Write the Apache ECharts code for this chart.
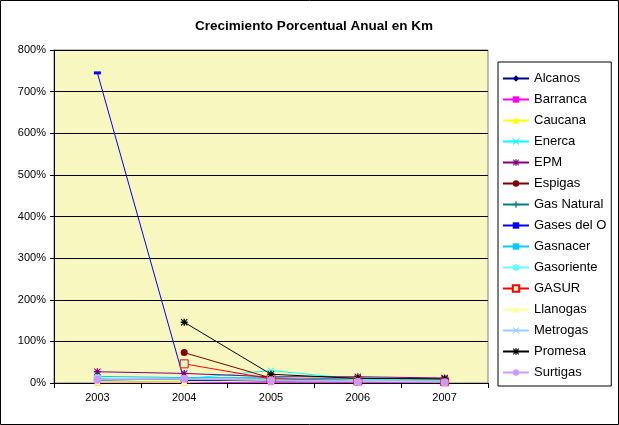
<!DOCTYPE html>
<html>
<head>
<meta charset="utf-8">
<script src="https://cdn.jsdelivr.net/npm/echarts@6/dist/echarts.min.js"></script>
<style>
html,body{margin:0;padding:0;background:#fff;}
#c{width:619px;height:425px;}
</style>
</head>
<body>
<div id="c"></div>
<script>
const years = ['2003','2004','2005','2006','2007'];
const yTicks = [0,100,200,300,400,500,600,700,800];
const alcanos    = [5, 2, 4, 3, 2];
const barranca   = [1, 1, 2, 2, 1];
const caucana    = [2, 3, 8, 7, 5];
const enerca     = [8, 10, 30, 9, 6];
const epm        = [27, 23, 15, 15, 12];
const espigas    = [null, 73, 12, 6, 4];
const gasNatural = [10, 8, 10, 12, 9];
const gasesDelO  = [745, 6, 5, 4, 3];
const gasnacer   = [16, 13, 13, 6, 5];
const gasoriente = [12, 9, 9, 5, 4];
const gasur      = [null, 46, 10, 5, 3];
const llanogas   = [3, 2, 5, 4, 3];
const metrogas   = [9, 11, 7, 6, 5];
const promesa    = [null, 146, 21, 11, 10];
const surtigas   = [8, 10, 6, 3, 2];

const X = 'path://M0,1L1,0L5,4L9,0L10,1L6,5L10,9L9,10L5,6L1,10L0,9L4,5Z';
const PLUS = 'path://M4,0H6V4H10V6H6V10H4V6H0V4H4Z';
const STAR = 'path://M4,0H6V4H10V6H6V10H4V6H0V4H4Z M0,1L1,0L5,4L9,0L10,1L6,5L10,9L9,10L5,6L1,10L0,9L4,5Z';
const DASH = 'path://M0,0H10V3H0Z';

const defs = [
  ['Alcanos', alcanos, '#000080', 'diamond', 7],
  ['Barranca', barranca, '#FF00FF', 'rect', 6],
  ['Caucana', caucana, '#FFFF00', 'triangle', 7],
  ['Enerca', enerca, '#00FFFF', X, 6],
  ['EPM', epm, '#800080', STAR, 7],
  ['Espigas', espigas, '#800000', 'circle', 7],
  ['Gas Natural', gasNatural, '#008080', PLUS, 7],
  ['Gases del O', gasesDelO, '#0000FF', DASH, [7, 3]],
  ['Gasnacer', gasnacer, '#00CCFF', DASH, [7, 3]],
  ['Gasoriente', gasoriente, '#66FFFF', 'circle', 7],
  ['GASUR', gasur, '#FF0000', 'rect', 8],
  ['Llanogas', llanogas, '#FFFF99', 'triangle', 7],
  ['Metrogas', metrogas, '#99CCFF', X, 6],
  ['Promesa', promesa, '#000000', STAR, 7],
  ['Surtigas', surtigas, '#CC99FF', 'circle', 8]
];

const series = defs.map(d => {
  const s = {
    name: d[0], type: 'line', data: d[1],
    symbol: d[3], symbolSize: d[4], showAllSymbol: true,
    connectNulls: false,
    lineStyle: {color: d[2], width: 1},
    itemStyle: {color: d[2]},
    emphasis: {disabled: true},
    animation: false
  };
  if (d[0] === 'GASUR') {
    s.itemStyle = {color: '#CCFFCC', borderColor: '#FF0000', borderWidth: 1};
  }
  return s;
});

const chart = echarts.init(document.getElementById('c'), null, {renderer: 'canvas'});
chart.setOption({
  backgroundColor: '#ffffff',
  animation: false,
  title: {
    text: 'Crecimiento Porcentual Anual en Km',
    left: 309, top: 14, textAlign: 'center',
    textStyle: {fontFamily: 'Liberation Sans, Arial', fontSize: 13.5, fontWeight: 'bold', color: '#000'}
  },
  grid: {
    left: 54, right: 131, top: 50, bottom: 42,
    show: true, backgroundColor: '#F8F7C0', borderColor: '#808080', borderWidth: 1
  },
  legend: {
    orient: 'vertical', left: 498, top: 62,
    width: 115,
    backgroundColor: '#ffffff', borderColor: '#000000', borderWidth: 1,
    padding: [10, 5, 7, 4],
    itemWidth: 26, itemHeight: 8, itemGap: 8,
    textStyle: {fontFamily: 'Liberation Sans, Arial', fontSize: 13, color: '#000'},
    data: defs.map(d => d[0])
  },
  xAxis: {
    type: 'category', data: years, boundaryGap: true,
    axisLine: {lineStyle: {color: '#000', width: 1}},
    axisTick: {show: true, inside: false, length: 5, alignWithLabel: false, lineStyle: {color: '#000'}},
    axisLabel: {fontFamily: 'Liberation Sans, Arial', fontSize: 11, color: '#000', margin: 9},
    splitLine: {show: false}
  },
  yAxis: {
    type: 'value', min: yTicks[0], max: yTicks[yTicks.length - 1], interval: 100,
    axisLine: {show: true, lineStyle: {color: '#000', width: 1}},
    axisTick: {show: true, inside: false, length: 4, lineStyle: {color: '#000'}},
    axisLabel: {fontFamily: 'Liberation Sans, Arial', fontSize: 11, color: '#000', margin: 8, formatter: '{value}%'},
    splitLine: {show: true, lineStyle: {color: '#000', width: 1}}
  },
  graphic: [{
    type: 'rect', shape: {x: 0.5, y: 0.5, width: 618, height: 424},
    style: {fill: 'none', stroke: '#000', lineWidth: 1}, silent: true, z: 100
  }],
  series: series
});
</script>
</body>
</html>
